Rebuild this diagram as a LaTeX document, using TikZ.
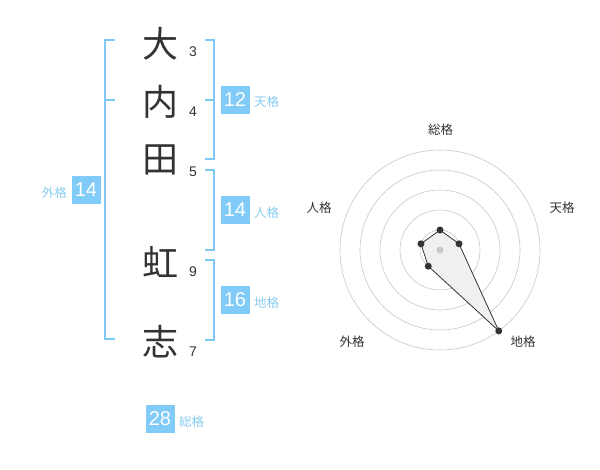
\documentclass[tikz,border=0pt]{standalone}
\usepackage{fontspec}
\usetikzlibrary{calc}
\setmainfont{Liberation Sans}
\newfontfamily\jp{Noto Sans CJK JP}
\definecolor{bx}{HTML}{80CBF8}
\definecolor{lb}{HTML}{88CCF2}
\definecolor{br}{HTML}{80C8F5}
\definecolor{ink}{HTML}{333333}
\tikzset{
  kanji/.style={font=\jp\fontsize{36}{36}\selectfont, text=ink, inner sep=0pt},
  stroke/.style={font=\fontsize{14}{14}\selectfont, text=ink, inner sep=0pt},
  numbox/.style={fill=bx, text=white, font=\fontsize{20}{20}\selectfont, minimum width=29pt, minimum height=28pt, inner sep=0pt},
  lbl/.style={font=\jp\fontsize{12.5}{13}\selectfont, text=lb, inner sep=0pt},
  brk/.style={draw=br, line width=2pt},
  ring/.style={draw=black!22, line width=0.6pt},
  axlbl/.style={font=\jp\fontsize{12.5}{13}\selectfont, text=ink, inner sep=0pt},
  dot/.style={circle, fill=ink, inner sep=0pt, minimum size=7pt}
}
\begin{document}
\begin{tikzpicture}[x=1pt,y=-1pt]
\useasboundingbox (0,0) rectangle (600,470);
% characters
\node[kanji] (c1) at (160,44) {大};
\node[kanji] (c2) at (160,102) {内};
\node[kanji] (c3) at (160,160) {田};
\node[kanji] (c4) at (160,262) {虹};
\node[kanji] (c5) at (160,342) {志};
\node[stroke] (s1) at (193,52) {3};
\node[stroke] (s2) at (193,112) {4};
\node[stroke] (s3) at (193,172) {5};
\node[stroke] (s4) at (193,272) {9};
\node[stroke] (s5) at (193,352) {7};
% left bracket
\coordinate (l1) at (115,40);
\coordinate (l2) at (105,40);
\coordinate (l3) at (105,339);
\coordinate (l4) at (115,339);
\coordinate (lm1) at (105,100);
\coordinate (lm2) at (115,100);
\draw[brk] (l1) -- (l2) -- (l3) -- (l4);
\draw[brk] (lm1) -- (lm2);
% right brackets
\coordinate (t1) at (205,40);
\coordinate (t2) at (214,40);
\coordinate (t3) at (214,159);
\coordinate (t4) at (205,159);
\coordinate (tm1) at (214,100);
\coordinate (tm2) at (205,100);
\draw[brk] (t1) -- (t2) -- (t3) -- (t4);
\draw[brk] (tm1) -- (tm2);
\coordinate (p1) at (205,170);
\coordinate (p2) at (214,170);
\coordinate (p3) at (214,250);
\coordinate (p4) at (205,250);
\draw[brk] (p1) -- (p2) -- (p3) -- (p4);
\coordinate (g1) at (205,260);
\coordinate (g2) at (214,260);
\coordinate (g3) at (214,340);
\coordinate (g4) at (205,340);
\draw[brk] (g1) -- (g2) -- (g3) -- (g4);
% boxes
\node[numbox] (b1) at (235,100) {12};
\node[lbl, anchor=west] (bl1) at (254,102) {天格};
\node[numbox] (b2) at (235,210) {14};
\node[lbl, anchor=west] (bl2) at (254,213) {人格};
\node[numbox] (b3) at (235,300) {16};
\node[lbl, anchor=west] (bl3) at (254,303) {地格};
\node[numbox] (b4) at (86,190) {14};
\node[lbl, anchor=east] (bl4) at (67,193) {外格};
\node[numbox] (b5) at (160,419) {28};
\node[lbl, anchor=west] (bl5) at (179,422) {総格};
% radar
\coordinate (o) at (440,250);
\foreach \r in {20,40,60,80,100} \draw[ring] (o) circle[radius=\r];
\coordinate (r1) at ($(o)+(0,-20)$);
\coordinate (r2) at ($(o)+(19.02,-6.18)$);
\coordinate (r3) at ($(o)+(58.78,80.90)$);
\coordinate (r4) at ($(o)+(-11.76,16.18)$);
\coordinate (r5) at ($(o)+(-19.02,-6.18)$);
\fill[black!6] (r1) -- (r2) -- (r3) -- (r4) -- (r5) -- cycle;
\draw[ink, line width=0.8pt] (r1) -- (r2) -- (r3) -- (r4) -- (r5) -- cycle;
\fill[black!22] (o) circle[radius=3.5];
\foreach \i in {1,...,5} \node[dot] (d\i) at (r\i) {};
\node[axlbl] (a1) at (440.5,130) {総格};
\node[axlbl] (a2) at (562,208) {天格};
\node[axlbl] (a3) at (523,342) {地格};
\node[axlbl] (a4) at (352,342) {外格};
\node[axlbl] (a5) at (319,208) {人格};
\end{tikzpicture}
\end{document}
